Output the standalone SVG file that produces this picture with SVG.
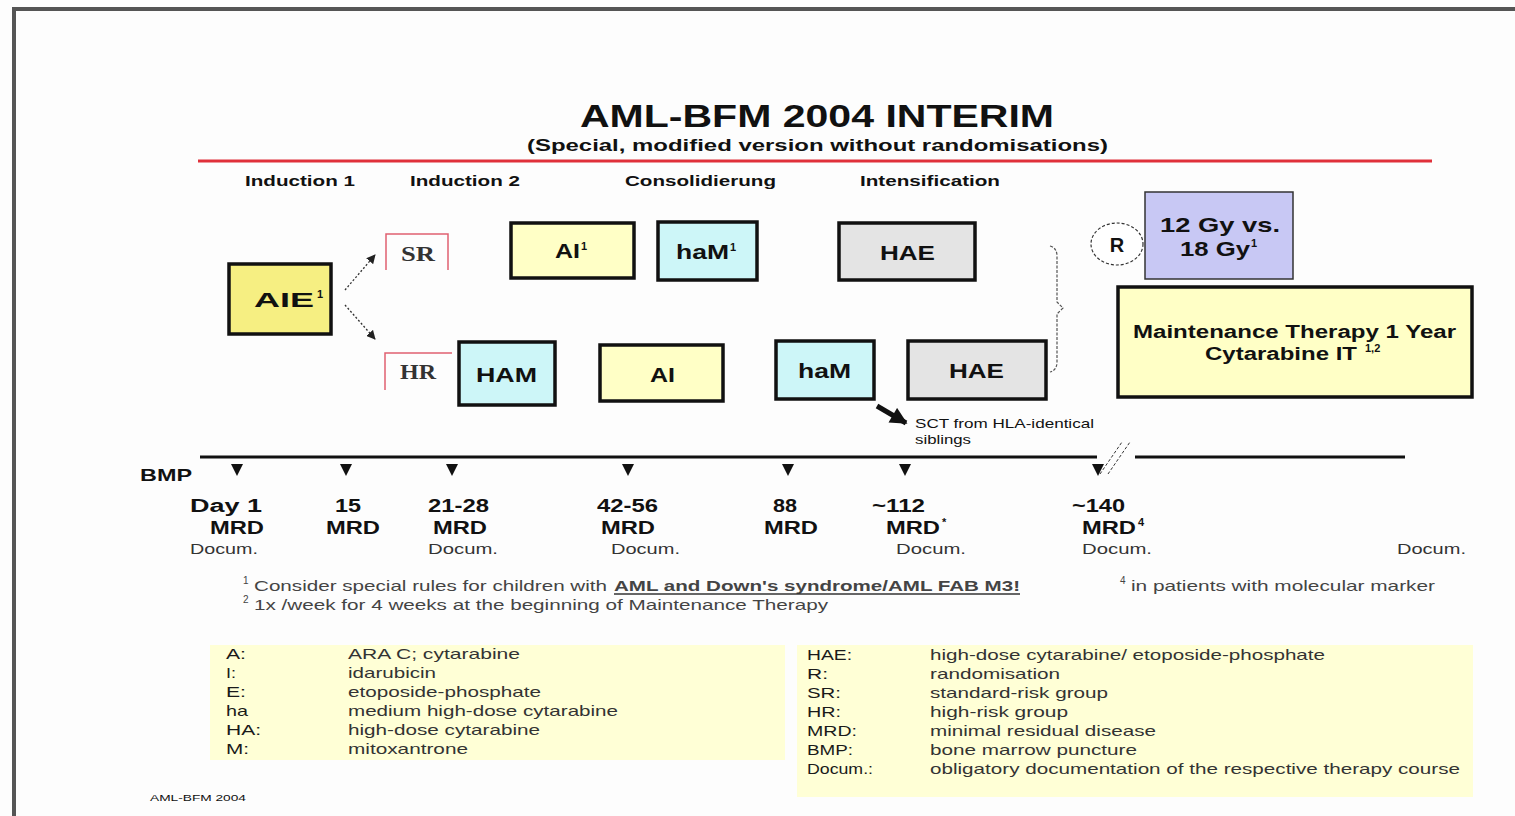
<svg xmlns="http://www.w3.org/2000/svg" width="1515" height="816" viewBox="0 0 1515 816">
<defs>
<style>
text{font-family:"Liberation Sans",Arial,sans-serif;fill:#111}
.b{font-weight:bold}
.box{stroke:#111;stroke-width:3.5}
.yel{fill:#f6ef82}
.ly{fill:#ffffc6}
.cy{fill:#cdf6f8}
.gr{fill:#e4e4e4}
.lav{fill:#c8c8f4}
.mid{text-anchor:middle}
.bx{font-size:21px;font-weight:bold}
.ph{font-size:15px;font-weight:bold}
.day{font-size:18px;font-weight:bold}
.doc{font-size:15px;fill:#333}
.fn{font-size:15px;fill:#444}
.lg{font-size:14.5px;fill:#333}
.lgk{font-size:14.5px;fill:#1a1a1a}
.red{stroke:#e06070;stroke-width:1.5;fill:none}
.rt{font-family:"Liberation Serif","Times New Roman",serif;font-weight:bold;font-size:21px;fill:#333}
.sup{font-size:11px;font-weight:bold}
.fs{font-size:10px;fill:#444}
</style>
<marker id="ah" viewBox="0 0 10 10" refX="9" refY="5" markerWidth="7" markerHeight="7" orient="auto"><path d="M0,0 L10,5 L0,10 z" fill="#222"/></marker>
<marker id="bigah" viewBox="0 0 10 10" refX="9" refY="5" markerWidth="18" markerHeight="17" markerUnits="userSpaceOnUse" orient="auto"><path d="M0,0 L10,5 L0,10 z" fill="#111"/></marker>
</defs>
<rect width="1515" height="816" fill="#fdfdfd"/>
<path d="M14,816 V9 H1515" fill="none" stroke="#555" stroke-width="4"/>

<g id="title">
<text x="580" y="127" class="b" font-size="32" textLength="474" lengthAdjust="spacingAndGlyphs">AML-BFM 2004 INTERIM</text>
<text x="527" y="151" class="b" font-size="17" fill="#222" textLength="581" lengthAdjust="spacingAndGlyphs">(Special, modified version without randomisations)</text>
<line x1="198" y1="161" x2="1432" y2="161" stroke="#e0303a" stroke-width="3"/>
</g>

<g id="phases">
<text x="245" y="186" class="ph" textLength="110" lengthAdjust="spacingAndGlyphs">Induction 1</text>
<text x="410" y="186" class="ph" textLength="110" lengthAdjust="spacingAndGlyphs">Induction 2</text>
<text x="625" y="186" class="ph" textLength="151" lengthAdjust="spacingAndGlyphs">Consolidierung</text>
<text x="860" y="186" class="ph" textLength="140" lengthAdjust="spacingAndGlyphs">Intensification</text>
</g>

<g id="node-AIE"><rect x="229" y="264" width="102" height="70" class="box yel"/><text x="254" y="307" class="bx" font-size="20" textLength="60" lengthAdjust="spacingAndGlyphs">AIE</text><text x="317" y="298" class="sup">1</text></g>
<g id="node-SR"><path d="M386,270 V234 H448 V270" class="red"/><text x="401" y="261" class="rt" textLength="34" lengthAdjust="spacingAndGlyphs">SR</text></g>
<g id="node-HR"><path d="M385,390 V353 H452" class="red"/><text x="400" y="379" class="rt" textLength="36" lengthAdjust="spacingAndGlyphs">HR</text></g>
<g id="node-AI1"><rect x="511" y="223" width="123" height="55" class="box ly"/><text x="555" y="258" class="bx" textLength="25" lengthAdjust="spacingAndGlyphs">AI</text><text x="581" y="250" class="sup">1</text></g>
<g id="node-haM1"><rect x="658" y="222" width="99" height="58" class="box cy"/><text x="676" y="259" class="bx" textLength="53" lengthAdjust="spacingAndGlyphs">haM</text><text x="730" y="251" class="sup">1</text></g>
<g id="node-HAE1"><rect x="839" y="223" width="136" height="57" class="box gr"/><text x="880" y="260" class="bx" textLength="55" lengthAdjust="spacingAndGlyphs">HAE</text></g>
<g id="node-HAM"><rect x="459" y="342" width="96" height="63" class="box cy"/><text x="476" y="382" class="bx" textLength="61" lengthAdjust="spacingAndGlyphs">HAM</text></g>
<g id="node-AI"><rect x="600" y="345" width="123" height="56" class="box ly"/><text x="650" y="382" class="bx" textLength="25" lengthAdjust="spacingAndGlyphs">AI</text></g>
<g id="node-haM"><rect x="776" y="341" width="98" height="58" class="box cy"/><text x="798" y="378" class="bx" textLength="53" lengthAdjust="spacingAndGlyphs">haM</text></g>
<g id="node-HAE2"><rect x="908" y="341" width="138" height="58" class="box gr"/><text x="949" y="378" class="bx" textLength="55" lengthAdjust="spacingAndGlyphs">HAE</text></g>
<g id="node-R"><ellipse cx="1117" cy="244" rx="26" ry="21" fill="#fff" stroke="#333" stroke-width="1.2" stroke-dasharray="3,2"/><text x="1117" y="252" class="b mid" font-size="20">R</text></g>
<g id="node-Gy"><rect x="1145" y="192" width="148" height="87" class="lav" stroke="#333" stroke-width="1.5"/><text x="1160" y="232" class="bx" font-size="22" textLength="120" lengthAdjust="spacingAndGlyphs">12 Gy vs.</text><text x="1180" y="256" class="bx" font-size="22" textLength="70" lengthAdjust="spacingAndGlyphs">18 Gy</text><text x="1251" y="247" class="sup">1</text></g>
<g id="node-Maint"><rect x="1118" y="287" width="354" height="110" class="box ly"/><text x="1133" y="338" class="b" font-size="18" textLength="323" lengthAdjust="spacingAndGlyphs">Maintenance Therapy 1 Year</text><text x="1205" y="360" class="b" font-size="18" textLength="152" lengthAdjust="spacingAndGlyphs">Cytarabine IT</text><text x="1365" y="352" class="sup" font-size="10">1,2</text></g>
<g id="node-SCT"><text x="915" y="428" font-size="13" fill="#333" textLength="179" lengthAdjust="spacingAndGlyphs">SCT from HLA-identical</text><text x="915" y="444" font-size="13" fill="#333" textLength="56" lengthAdjust="spacingAndGlyphs">siblings</text></g>

<g id="connectors">
<line x1="345" y1="290" x2="375" y2="255" stroke="#333" stroke-width="1.3" stroke-dasharray="2,2" marker-end="url(#ah)"/>
<line x1="345" y1="305" x2="375" y2="339" stroke="#333" stroke-width="1.3" stroke-dasharray="2,2" marker-end="url(#ah)"/>
<line x1="877" y1="406" x2="906" y2="423" stroke="#111" stroke-width="5" marker-end="url(#bigah)"/>
<path d="M1050,246 Q1057,248 1057,256 V302 L1063,308 L1057,314 V362 Q1057,370 1050,372" fill="none" stroke="#555" stroke-width="1.2" stroke-dasharray="3,1.5"/>
</g>

<g id="timeline">
<line x1="200" y1="457" x2="1097" y2="457" stroke="#111" stroke-width="3"/>
<line x1="1135" y1="457" x2="1405" y2="457" stroke="#111" stroke-width="3"/>
<line x1="1100" y1="474" x2="1122" y2="442" stroke="#333" stroke-width="1" stroke-dasharray="3,2"/>
<line x1="1108" y1="474" x2="1130" y2="442" stroke="#333" stroke-width="1" stroke-dasharray="3,2"/>
<text x="140" y="481" class="b" font-size="17" textLength="52" lengthAdjust="spacingAndGlyphs">BMP</text>
<g fill="#111">
<path d="M231,464 h12 l-6,12 z"/>
<path d="M340,464 h12 l-6,12 z"/>
<path d="M446,464 h12 l-6,12 z"/>
<path d="M622,464 h12 l-6,12 z"/>
<path d="M782,464 h12 l-6,12 z"/>
<path d="M899,464 h12 l-6,12 z"/>
<path d="M1092,464 h12 l-6,12 z"/>
</g>
<text x="190" y="512" class="day" textLength="72" lengthAdjust="spacingAndGlyphs">Day 1</text>
<text x="335" y="512" class="day" textLength="26" lengthAdjust="spacingAndGlyphs">15</text>
<text x="428" y="512" class="day" textLength="61" lengthAdjust="spacingAndGlyphs">21-28</text>
<text x="597" y="512" class="day" textLength="61" lengthAdjust="spacingAndGlyphs">42-56</text>
<text x="773" y="512" class="day" textLength="24" lengthAdjust="spacingAndGlyphs">88</text>
<text x="872" y="512" class="day" textLength="53" lengthAdjust="spacingAndGlyphs">~112</text>
<text x="1072" y="512" class="day" textLength="53" lengthAdjust="spacingAndGlyphs">~140</text>
<text x="210" y="534" class="day" textLength="54" lengthAdjust="spacingAndGlyphs">MRD</text>
<text x="326" y="534" class="day" textLength="54" lengthAdjust="spacingAndGlyphs">MRD</text>
<text x="433" y="534" class="day" textLength="54" lengthAdjust="spacingAndGlyphs">MRD</text>
<text x="601" y="534" class="day" textLength="54" lengthAdjust="spacingAndGlyphs">MRD</text>
<text x="764" y="534" class="day" textLength="54" lengthAdjust="spacingAndGlyphs">MRD</text>
<text x="886" y="534" class="day" textLength="54" lengthAdjust="spacingAndGlyphs">MRD</text><text x="942" y="526" class="sup" font-size="10">*</text>
<text x="1082" y="534" class="day" textLength="54" lengthAdjust="spacingAndGlyphs">MRD</text><text x="1138" y="526" class="sup" font-size="10">4</text>
<text x="190" y="554" class="doc" textLength="68" lengthAdjust="spacingAndGlyphs">Docum.</text>
<text x="428" y="554" class="doc" textLength="70" lengthAdjust="spacingAndGlyphs">Docum.</text>
<text x="611" y="554" class="doc" textLength="69" lengthAdjust="spacingAndGlyphs">Docum.</text>
<text x="896" y="554" class="doc" textLength="70" lengthAdjust="spacingAndGlyphs">Docum.</text>
<text x="1082" y="554" class="doc" textLength="70" lengthAdjust="spacingAndGlyphs">Docum.</text>
<text x="1397" y="554" class="doc" textLength="69" lengthAdjust="spacingAndGlyphs">Docum.</text>
</g>

<g id="footnotes">
<text x="243" y="584" class="fs">1</text>
<text x="254" y="591" class="fn" textLength="353" lengthAdjust="spacingAndGlyphs">Consider special rules for children with</text>
<text x="614" y="591" class="fn b" fill="#222" textLength="406" lengthAdjust="spacingAndGlyphs">AML and Down's syndrome/AML FAB M3!</text>
<line x1="614" y1="594" x2="1020" y2="594" stroke="#333" stroke-width="1.3"/>
<text x="243" y="603" class="fs">2</text>
<text x="254" y="610" class="fn" textLength="574" lengthAdjust="spacingAndGlyphs">1x /week for 4 weeks at the beginning of Maintenance Therapy</text>
<text x="1120" y="584" class="fs">4</text>
<text x="1131" y="591" class="fn" textLength="304" lengthAdjust="spacingAndGlyphs">in patients with molecular marker</text>
</g>

<g id="legend-left">
<rect x="210" y="645" width="575" height="115" fill="#ffffd6"/>
<text x="226" y="659" class="lgk" textLength="20" lengthAdjust="spacingAndGlyphs">A:</text><text x="348" y="659" class="lg" textLength="172" lengthAdjust="spacingAndGlyphs">ARA C; cytarabine</text>
<text x="226" y="678" class="lgk" textLength="10" lengthAdjust="spacingAndGlyphs">I:</text><text x="348" y="678" class="lg" textLength="88" lengthAdjust="spacingAndGlyphs">idarubicin</text>
<text x="226" y="697" class="lgk" textLength="20" lengthAdjust="spacingAndGlyphs">E:</text><text x="348" y="697" class="lg" textLength="193" lengthAdjust="spacingAndGlyphs">etoposide-phosphate</text>
<text x="226" y="716" class="lgk" textLength="22" lengthAdjust="spacingAndGlyphs">ha</text><text x="348" y="716" class="lg" textLength="270" lengthAdjust="spacingAndGlyphs">medium high-dose cytarabine</text>
<text x="226" y="735" class="lgk" textLength="35" lengthAdjust="spacingAndGlyphs">HA:</text><text x="348" y="735" class="lg" textLength="192" lengthAdjust="spacingAndGlyphs">high-dose cytarabine</text>
<text x="226" y="754" class="lgk" textLength="23" lengthAdjust="spacingAndGlyphs">M:</text><text x="348" y="754" class="lg" textLength="120" lengthAdjust="spacingAndGlyphs">mitoxantrone</text>
</g>

<g id="legend-right">
<rect x="797" y="645" width="676" height="152" fill="#ffffd6"/>
<text x="807" y="660" class="lgk" textLength="45" lengthAdjust="spacingAndGlyphs">HAE:</text><text x="930" y="660" class="lg" textLength="395" lengthAdjust="spacingAndGlyphs">high-dose cytarabine/ etoposide-phosphate</text>
<text x="807" y="679" class="lgk" textLength="21" lengthAdjust="spacingAndGlyphs">R:</text><text x="930" y="679" class="lg" textLength="130" lengthAdjust="spacingAndGlyphs">randomisation</text>
<text x="807" y="698" class="lgk" textLength="34" lengthAdjust="spacingAndGlyphs">SR:</text><text x="930" y="698" class="lg" textLength="178" lengthAdjust="spacingAndGlyphs">standard-risk group</text>
<text x="807" y="717" class="lgk" textLength="34" lengthAdjust="spacingAndGlyphs">HR:</text><text x="930" y="717" class="lg" textLength="138" lengthAdjust="spacingAndGlyphs">high-risk group</text>
<text x="807" y="736" class="lgk" textLength="50" lengthAdjust="spacingAndGlyphs">MRD:</text><text x="930" y="736" class="lg" textLength="226" lengthAdjust="spacingAndGlyphs">minimal residual disease</text>
<text x="807" y="755" class="lgk" textLength="46" lengthAdjust="spacingAndGlyphs">BMP:</text><text x="930" y="755" class="lg" textLength="207" lengthAdjust="spacingAndGlyphs">bone marrow puncture</text>
<text x="807" y="774" class="lgk" textLength="66" lengthAdjust="spacingAndGlyphs">Docum.:</text><text x="930" y="774" class="lg" textLength="530" lengthAdjust="spacingAndGlyphs">obligatory documentation of the respective therapy course</text>
</g>

<text x="150" y="801" font-size="9" fill="#444" textLength="96" lengthAdjust="spacingAndGlyphs">AML-BFM 2004</text>
</svg>
